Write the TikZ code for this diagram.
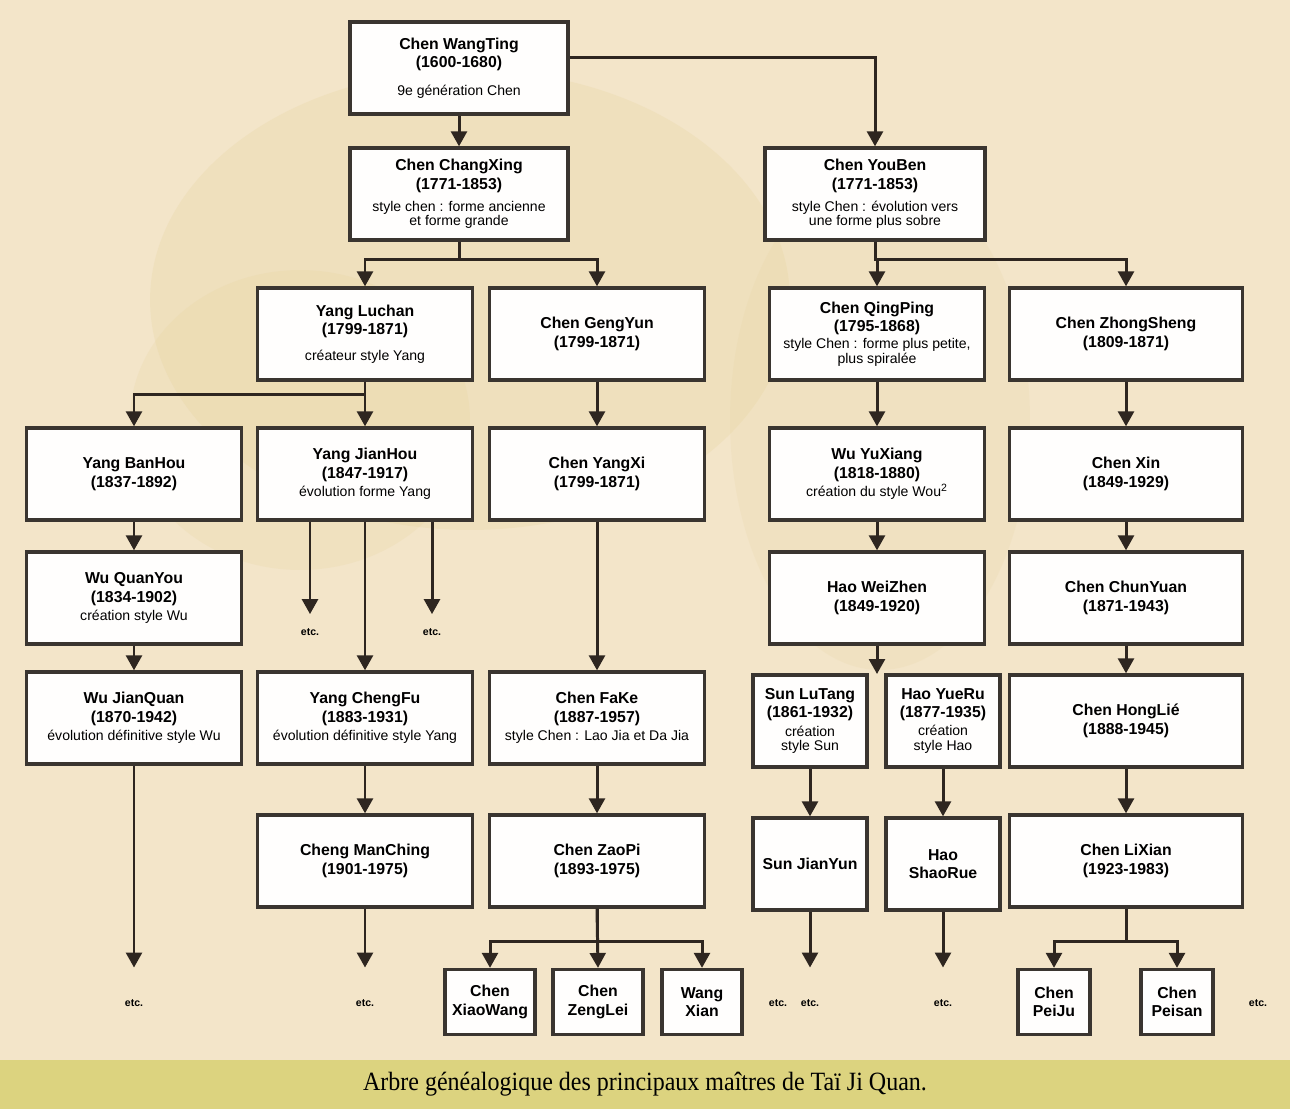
\documentclass[tikz,border=0pt]{standalone}
\usepackage{fontspec}
\setmainfont{Liberation Sans}
\newfontfamily\capfont{Liberation Serif}[FakeStretch=0.91]
\usetikzlibrary{arrows.meta}

\definecolor{paper}{RGB}{243,229,201}
\definecolor{sand}{RGB}{228,208,150}
\definecolor{band}{RGB}{220,211,127}
\definecolor{ink}{RGB}{46,38,32}
\definecolor{frame}{RGB}{58,53,48}

\newcommand{\desc}[1]{{\mdseries\fontsize{8}{9}\selectfont #1}}

\begin{document}
\begin{tikzpicture}[x=0.02cm,y=-0.02cm,
  person/.style={draw=frame,line width=1.9pt,fill=white!96!paper,minimum width=4.3cm,minimum height=1.84cm,align=center,inner sep=1pt,font=\bfseries\fontsize{9}{10.5}\selectfont},
  narrow/.style={person,minimum width=2.28cm},
  leaf/.style={person,minimum width=1.8cm,minimum height=1.3cm},
  link/.style={draw=ink,line width=1.7pt,-{Triangle[length=8.5pt,width=9pt]}},
  etc/.style={inner sep=0pt,font=\bfseries\fontsize{6}{6}\selectfont}]

\useasboundingbox (0,0) rectangle (1290,1109);

%Background
\fill[paper] (0,0) rectangle (1290,1060);
\fill[sand,opacity=0.22] (470,300) ellipse [x radius=6.4cm,y radius=4.6cm];
\fill[sand,opacity=0.18] (300,420) ellipse [x radius=3.4cm,y radius=3cm];
\fill[sand,opacity=0.15] (880,420) ellipse [x radius=3cm,y radius=5cm];
\fill[band] (0,1060) rectangle (1290,1109);

%Chen
\node (wangting)  at (459,68)  [person,minimum width=4.36cm] {Chen WangTing\\(1600-1680)\\[5pt]\desc{9e génération Chen}};
\node (changxing) at (459,194) [person,minimum width=4.36cm] {Chen ChangXing\\(1771-1853)\\[2pt]\desc{style chen : forme ancienne}\\[-2pt]\desc{et forme grande}};
\node (youben)    at (875,194) [person,minimum width=4.4cm] {Chen YouBen\\(1771-1853)\\[2pt]\desc{style Chen : évolution vers}\\[-2pt]\desc{une forme plus sobre}};

%Generation 2
\node (luchan)     at (365,334)  [person] {Yang Luchan\\(1799-1871)\\[4pt]\desc{créateur style Yang}};
\node (gengyun)    at (597,334)  [person] {Chen GengYun\\(1799-1871)};
\node (qingping)   at (877,334)  [person] {Chen QingPing\\(1795-1868)\\[-1pt]\desc{style Chen : forme plus petite,}\\[-2pt]\desc{plus spiralée}};
\node (zhongsheng) at (1126,334) [person,minimum width=4.66cm] {Chen ZhongSheng\\(1809-1871)};

%Generation 3
\node (banhou)   at (134,474)  [person] {Yang BanHou\\(1837-1892)};
\node (jianhou)  at (365,474)  [person] {Yang JianHou\\(1847-1917)\\\desc{évolution forme Yang}};
\node (yangxi)   at (597,474)  [person] {Chen YangXi\\(1799-1871)};
\node (yuxiang)  at (877,474)  [person] {Wu YuXiang\\(1818-1880)\\\desc{création du style Wou\textsuperscript{2}}};
\node (chenxin)  at (1126,474) [person,minimum width=4.66cm] {Chen Xin\\(1849-1929)};

%Generation 4
\node (quanyou)   at (134,598)  [person] {Wu QuanYou\\(1834-1902)\\\desc{création style Wu}};
\node (weizhen)   at (877,598)  [person] {Hao WeiZhen\\(1849-1920)};
\node (chunyuan)  at (1126,598) [person,minimum width=4.66cm] {Chen ChunYuan\\(1871-1943)};

%Generation 5
\node (jianquan) at (134,718)  [person] {Wu JianQuan\\(1870-1942)\\\desc{évolution définitive style Wu}};
\node (chengfu)  at (365,718)  [person] {Yang ChengFu\\(1883-1931)\\\desc{évolution définitive style Yang}};
\node (fake)     at (597,718)  [person] {Chen FaKe\\(1887-1957)\\\desc{style Chen : Lao Jia et Da Jia}};
\node (lutang)   at (810,721)  [narrow] {Sun LuTang\\(1861-1932)\\\desc{création}\\[-2pt]\desc{style Sun}};
\node (yueru)    at (943,721)  [narrow] {Hao YueRu\\(1877-1935)\\\desc{création}\\[-2pt]\desc{style Hao}};
\node (honglie)  at (1126,721) [person,minimum width=4.66cm] {Chen HongLié\\(1888-1945)};

%Generation 6
\node (manching) at (365,861)  [person] {Cheng ManChing\\(1901-1975)};
\node (zaopi)    at (597,861)  [person] {Chen ZaoPi\\(1893-1975)};
\node (jianyun)  at (810,864)  [narrow] {Sun JianYun};
\node (shaorue)  at (943,864)  [narrow] {Hao\\ShaoRue};
\node (lixian)   at (1126,861) [person,minimum width=4.66cm] {Chen LiXian\\(1923-1983)};

%Generation 7
\node (xiaowang) at (490,1002)  [leaf] {Chen\\XiaoWang};
\node (zenglei)  at (598,1002)  [leaf] {Chen\\ZengLei};
\node (wangxian) at (702,1002)  [leaf,minimum width=1.6cm] {Wang\\Xian};
\node (peiju)    at (1054,1002) [leaf,minimum width=1.44cm] {Chen\\PeiJu};
\node (peisan)   at (1177,1002) [leaf,minimum width=1.44cm] {Chen\\Peisan};

%etc.
\node (etcA) at (310,632)  [etc] {etc.};
\node (etcB) at (432,632)  [etc] {etc.};
\node (etcC) at (134,1003) [etc] {etc.};
\node (etcD) at (365,1003) [etc] {etc.};
\node (etcE) at (778,1003) [etc] {etc.};
\node (etcF) at (810,1003) [etc] {etc.};
\node (etcG) at (943,1003) [etc] {etc.};
\node (etcH) at (1258,1003)[etc] {etc.};
\coordinate (gap) at (877,674);

%Links
\draw[link] (wangting.south) -- (changxing.north);
\draw[link] ([yshift=6pt]wangting.east) -| (youben.north);
\draw[link] (changxing.south) -- ++(0,18) -| (luchan.north);
\draw[link] (changxing.south) -- ++(0,18) -| (gengyun.north);
\draw[link] (youben.south) -- ++(0,18) -| (qingping.north);
\draw[link] (youben.south) -- ++(0,18) -| (zhongsheng.north);
\draw[link] (luchan.south) -- ++(0,13) -| (banhou.north);
\draw[link] (luchan.south) -- (jianhou.north);
\draw[link] (gengyun.south) -- (yangxi.north);
\draw[link] (qingping.south) -- (yuxiang.north);
\draw[link] (zhongsheng.south) -- (chenxin.north);
\draw[link] (banhou.south) -- (quanyou.north);
\draw[link] (quanyou.south) -- (jianquan.north);
\draw[link,shorten >=8pt] (jianhou.south -| etcA) -- (etcA);
\draw[link,shorten >=8pt] (jianhou.south -| etcB) -- (etcB);
\draw[link] (jianhou.south) -- (chengfu.north);
\draw[link] (yangxi.south) -- (fake.north);
\draw[link] (yuxiang.south) -- (weizhen.north);
\draw[link] (weizhen.south) -- (gap);
\draw[link] (chenxin.south) -- (chunyuan.north);
\draw[link] (chunyuan.south) -- (honglie.north);
\draw[link] (chengfu.south) -- (manching.north);
\draw[link] (fake.south) -- (zaopi.north);
\draw[link] (lutang.south) -- (jianyun.north);
\draw[link] (yueru.south) -- (shaorue.north);
\draw[link] (honglie.south) -- (lixian.north);
\draw[link] (zaopi.south) -- ++(0,33) -| (xiaowang.north);
\draw[link] (zaopi.south) -- (zenglei.north);
\draw[link] (zaopi.south) -- ++(0,33) -| (wangxian.north);
\draw[link] (lixian.south) -- ++(0,33) -| (peiju.north);
\draw[link] (lixian.south) -- ++(0,33) -| (peisan.north);
\draw[link,shorten >=18pt] (jianquan.south) -- (etcC);
\draw[link,shorten >=18pt] (manching.south) -- (etcD);
\draw[link,shorten >=18pt] (jianyun.south) -- (etcF);
\draw[link,shorten >=18pt] (shaorue.south) -- (etcG);

%Caption
\node (caption) at (645,1084) [font=\capfont\fontsize{15}{16}\selectfont] {Arbre généalogique des principaux maîtres de Taï Ji Quan.};

\end{tikzpicture}
\end{document}
